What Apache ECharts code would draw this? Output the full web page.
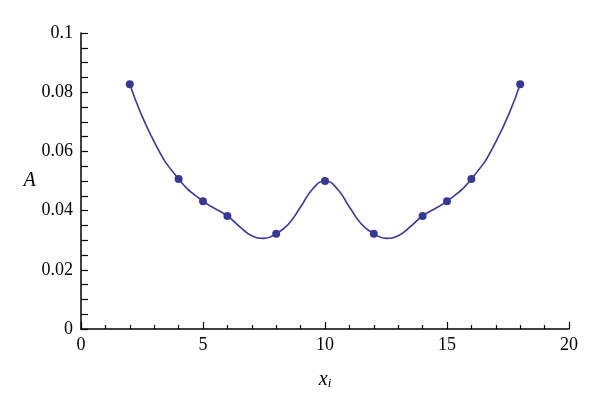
<!DOCTYPE html>
<html>
<head>
<meta charset="utf-8">
<script src="https://cdn.jsdelivr.net/npm/echarts@6/dist/echarts.min.js"></script>
<style>
html,body{margin:0;padding:0;background:#fff;}
#chart{width:600px;height:411px;}
</style>
</head>
<body>
<div id="chart"></div>
<script>
// Data points (markers)
var xPoints = [2, 4, 5, 6, 8, 10, 12, 14, 15, 16, 18];
var aValues = [0.0827, 0.0507, 0.0432, 0.0382, 0.0322, 0.0500, 0.0322, 0.0382, 0.0432, 0.0507, 0.0827];
// Fitted curve, values
var curveX = [2, 3, 4, 5, 6, 6.5, 7, 7.5, 8, 8.5, 9, 9.5, 10, 10.5, 11, 11.5, 12, 12.5, 13, 13.5, 14, 15, 16, 17, 18];
var curveA = [0.0827, 0.0632, 0.0507, 0.0432, 0.0382, 0.0346, 0.0315, 0.0306, 0.0322, 0.0354, 0.0412, 0.0474, 0.0500, 0.0474, 0.0412, 0.0354, 0.0322, 0.0306, 0.0315, 0.0346, 0.0382, 0.0432, 0.0507, 0.0632, 0.0827];
var xTicks = [0, 5, 10, 15, 20];
var yTicks = [0, 0.02, 0.04, 0.06, 0.08, 0.1];

var color = '#383894';
var font = 'Liberation Serif';

var chart = echarts.init(document.getElementById('chart'));
chart.setOption({
  animation: false,
  backgroundColor: '#ffffff',
  grid: {left: 81, right: 31, top: 33, bottom: 82},
  xAxis: {
    type: 'value', min: xTicks[0], max: xTicks[xTicks.length - 1], interval: 5,
    name: '{i|x}{s|i}', nameLocation: 'middle', nameGap: 40,
    nameTextStyle: {rich: {
      i: {fontFamily: font, fontStyle: 'italic', fontSize: 20, color: '#000'},
      s: {fontFamily: font, fontStyle: 'italic', fontSize: 13, color: '#000', verticalAlign: 'bottom', padding: [8, 0, 0, 0]}
    }},
    axisLine: {show: true, onZero: false, lineStyle: {color: '#000', width: 1.5}},
    axisTick: {show: true, inside: true, length: 7, lineStyle: {color: '#000', width: 1.2}},
    minorTick: {show: true, splitNumber: 5, length: 4, lineStyle: {color: '#000', width: 1.2}},
    splitLine: {show: false},
    axisLabel: {fontFamily: font, fontSize: 18, color: '#000', margin: 7,
      formatter: function (v) { return xTicks.indexOf(v) >= 0 ? String(v) : ''; }}
  },
  yAxis: {
    type: 'value', min: yTicks[0], max: yTicks[yTicks.length - 1], interval: 0.02,
    name: 'A', nameLocation: 'middle', nameGap: 42, nameRotate: 0,
    nameTextStyle: {fontFamily: font, fontStyle: 'italic', fontSize: 20, color: '#000'},
    axisLine: {show: true, onZero: false, lineStyle: {color: '#000', width: 1.5}},
    axisTick: {show: true, inside: true, length: 7, lineStyle: {color: '#000', width: 1.2}},
    minorTick: {show: true, splitNumber: 4, length: 7, lineStyle: {color: '#000', width: 1.2}},
    splitLine: {show: false},
    axisLabel: {fontFamily: font, fontSize: 18, color: '#000', margin: 8,
      formatter: function (v) {
        for (var k = 0; k < yTicks.length; k++) {
          if (Math.abs(yTicks[k] - v) < 1e-9) return String(yTicks[k]);
        }
        return '';
      }}
  },
  series: [
    {
      type: 'line', smooth: 0.5, symbol: 'none',
      data: curveX.map(function (x, i) { return [x, curveA[i]]; }),
      lineStyle: {color: color, width: 1.6}
    },
    {
      type: 'scatter', symbol: 'circle', symbolSize: 8,
      data: xPoints.map(function (x, i) { return [x, aValues[i]]; }),
      itemStyle: {color: color, opacity: 1}
    }
  ]
});
</script>
</body>
</html>
